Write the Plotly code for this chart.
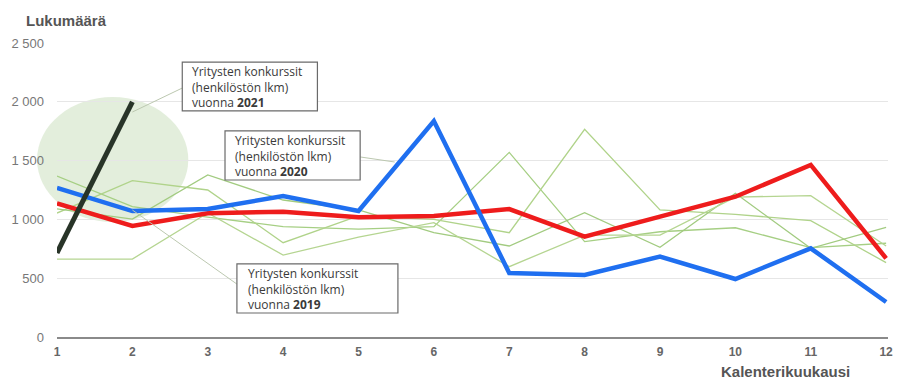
import plotly.graph_objects as go

# Months 1..12
months = list(range(1, 13))

# Monthly bankruptcy counts (personnel count)
y2019 = [1137, 944, 1052, 1066, 1018, 1029, 1088, 853, 1023, 1193, 1463, 669]
y2020 = [1267, 1071, 1088, 1199, 1071, 1837, 544, 527, 683, 493, 754, 298]
y2021 = [715, 2000]

# Earlier years, drawn as thin background lines
earlier_a = [1369, 1108, 1020, 938, 918, 938, 1570, 811, 895, 929, 760, 797]
earlier_b = [1054, 1329, 1250, 802, 1029, 1001, 887, 1766, 1080, 1043, 989, 632]
earlier_c = [1090, 1003, 1378, 1165, 1080, 887, 774, 1057, 763, 1222, 754, 933]
earlier_d = [663, 663, 1054, 697, 850, 972, 598, 867, 867, 1190, 1202, 774]
earlier_years = [earlier_a, earlier_b, earlier_c, earlier_d]

y_ticks = [0, 500, 1000, 1500, 2000, 2500]
y_tick_text = ["0", "500", "1 000", "1 500", "2 000", "2 500"]
x_tick_text = [str(m) for m in months]

box_label = "Yritysten konkurssit<br>(henkilöstön lkm)<br>vuonna <b>{}</b>"

fig = go.Figure()

green_colors = ["#a6cf84", "#b0d38a", "#a2cb80", "#b5d591"]
for vals, col in zip(earlier_years, green_colors):
    fig.add_trace(go.Scatter(x=months, y=vals, mode="lines",
                             line=dict(color=col, width=1.3),
                             hoverinfo="skip", showlegend=False))

fig.add_trace(go.Scatter(x=months, y=y2019, mode="lines",
                         line=dict(color="#ee1c1c", width=4.5), showlegend=False))
fig.add_trace(go.Scatter(x=months, y=y2020, mode="lines",
                         line=dict(color="#1f6ff0", width=4.5), showlegend=False))
fig.add_trace(go.Scatter(x=months[:len(y2021)], y=y2021, mode="lines",
                         line=dict(color="#283428", width=5), showlegend=False))

# Highlight ellipse around the start of 2021
fig.add_shape(type="circle", xref="paper", yref="paper",
              x0=-0.024, x1=0.158, y0=0.391, y1=0.816,
              fillcolor="rgba(200,221,186,0.5)", line=dict(width=0), layer="below")

# Leader lines from the labels
leader = dict(color="#bcc8b0", width=1)
fig.add_shape(type="line", xref="x", yref="y", x0=2.662, y0=2117, x1=2.0, y1=1913, line=leader)
fig.add_shape(type="line", xref="x", yref="y", x0=5.022, y0=1531, x1=5.48, y1=1488, line=leader)
fig.add_shape(type="line", xref="x", yref="y", x0=2.0, y0=1080, x1=3.387, y1=450, line=leader)

# Label boxes: (year, left, right, bottom, top, text x, text y)
label_boxes = [
    (2021, 2.662, 4.455, 1922, 2338, 2.767, 2130),
    (2020, 3.229, 5.022, 1335, 1752, 3.334, 1543),
    (2019, 3.387, 5.523, 204, 621, 3.506, 412),
]
label_font = dict(family="Open Sans, sans-serif", size=12, color="#3a3a3a")
for year, bx0, bx1, by0, by1, tx, ty in label_boxes:
    fig.add_shape(type="rect", xref="x", yref="y", x0=bx0, x1=bx1, y0=by0, y1=by1,
                  fillcolor="white", line=dict(color="#6a6a6a", width=1.2), layer="above")
    fig.add_annotation(x=tx, y=ty, xref="x", yref="y", xanchor="left", yanchor="middle",
                       text=box_label.format(year), showarrow=False, align="left",
                       font=label_font)

fig.add_annotation(text="<b>Lukumäärä</b>", xref="paper", yref="paper",
                   x=-0.0395, y=1.078, xanchor="left", yanchor="middle", showarrow=False,
                   font=dict(family="Liberation Sans, Arial, sans-serif", size=15, color="#555555"))
fig.add_annotation(text="<b>Kalenterikuukausi</b>", xref="paper", yref="paper",
                   x=0.877, y=-0.119, xanchor="center", yanchor="middle", showarrow=False,
                   font=dict(family="Liberation Sans, Arial, sans-serif", size=15, color="#555555"))

fig.update_layout(
    width=900, height=380,
    margin=dict(l=57, r=7, t=43, b=43),
    plot_bgcolor="white", paper_bgcolor="white",
    font=dict(family="Liberation Sans, Arial, sans-serif"),
    xaxis=dict(range=[1, 12.025], tickvals=months, ticktext=x_tick_text,
               showgrid=False, zeroline=False, showline=True, linecolor="#8a8a8a",
               linewidth=1.5, ticks="", ticklabelstandoff=3,
               tickfont=dict(size=12, color="#666666", family="Liberation Sans, Arial, sans-serif",
                             weight="bold")),
    yaxis=dict(range=[0, 2500], tickvals=y_ticks, ticktext=y_tick_text,
               showgrid=True, gridcolor="#e6e6e6", gridwidth=1, zeroline=False,
               showline=False, ticks="", ticklabelstandoff=12,
               tickfont=dict(size=13, color="#777777")),
)

fig.write_html("out.html")
